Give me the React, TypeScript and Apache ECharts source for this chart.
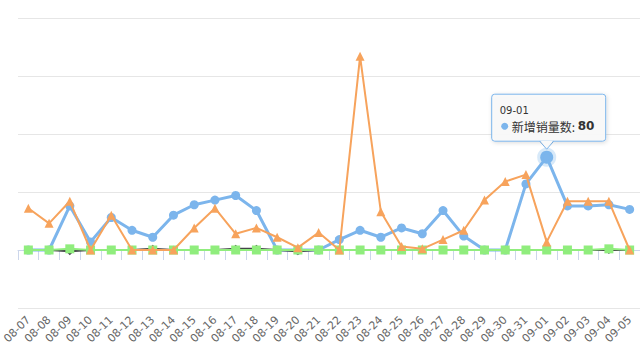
import React, { useEffect, useRef } from 'react';
import * as echarts from 'echarts';

const categories = [
  '08-07', '08-08', '08-09', '08-10', '08-11', '08-12', '08-13', '08-14', '08-15', '08-16',
  '08-17', '08-18', '08-19', '08-20', '08-21', '08-22', '08-23', '08-24', '08-25', '08-26',
  '08-27', '08-28', '08-29', '08-30', '08-31', '09-01', '09-02', '09-03', '09-04', '09-05',
];

const newSalesName = '新增销量数';
const newSales = [0, 0, 38, 7, 28, 17, 11, 30, 39, 43, 47, 34, 0, 0, 0, 9, 17, 11, 19, 14, 34, 12, 0, 0, 57, 80, 38, 38, 39, 35];
const seriesBlack = [0, 0, -1, 0, 0, 0, 1, 0, 0, 0, 1, 1, 0, -1, 0, 0, 0, 0, 0, 0, 0, 0, 0, 0, 0, 0, 0, 0, 0, 0];
const seriesGreen = [0, 0, 1, 0, 0, 0, 0, 0, 0, 0, 0, 0, 0, 0, 0, 0, 0, 0, 0, 0, 0, 0, 0, 0, 0, 0, 0, 0, 1, 0];
const seriesOrange = [36, 23, 42, 0, 30, 0, 0, 0, 19, 36, 14, 19, 11, 2, 15, 0, 167, 33, 3, 1, 9, 17, 43, 59, 65, 7, 42, 42, 42, 0];

const yMin = -50;
const yMax = 200;
const yInterval = 50;

const tipIndex = 25;

export default function App() {
  const ref = useRef<HTMLDivElement>(null);

  useEffect(() => {
    if (!ref.current) return;
    const chart = echarts.init(ref.current, null, { renderer: 'svg' });
    const blueData = newSales.map((v, i) =>
      i === tipIndex
        ? {
            value: v,
            symbolSize: 13,
            itemStyle: { borderColor: 'rgba(124,181,236,0.3)', borderWidth: 6 },
          }
        : v
    );
    chart.setOption({
      animation: false,
      backgroundColor: '#ffffff',
      grid: { left: 2, right: 0, top: 18, bottom: 52, containLabel: false },
      xAxis: {
        type: 'category',
        data: categories,
        boundaryGap: true,
        axisLine: { lineStyle: { color: '#ccd6eb', width: 1 } },
        axisTick: { show: true, length: 10, lineStyle: { color: '#ccd6eb' } },
        axisLabel: {
          rotate: 45,
          interval: 0,
          color: '#666666',
          fontSize: 11,
          fontFamily: 'DejaVu Sans, sans-serif',
          margin: 10,
        },
        splitLine: { show: false },
      },
      yAxis: {
        type: 'value',
        min: yMin,
        max: yMax,
        interval: yInterval,
        axisLine: { show: false },
        axisTick: { show: false },
        axisLabel: { show: false },
        splitLine: { show: true, lineStyle: { color: '#e6e6e6', width: 1 } },
      },
      series: [
        {
          name: newSalesName,
          type: 'line',
          data: blueData,
          symbol: 'circle',
          symbolSize: 9,
          showAllSymbol: true,
          lineStyle: { color: '#7cb5ec', width: 3 },
          itemStyle: { color: '#7cb5ec' },
          z: 2,
        },
        {
          name: 's2',
          type: 'line',
          data: seriesBlack,
          symbol: 'diamond',
          symbolSize: 8,
          showAllSymbol: true,
          lineStyle: { color: '#434348', width: 2 },
          itemStyle: { color: '#434348' },
          z: 3,
        },
        {
          name: 's3',
          type: 'line',
          data: seriesGreen,
          symbol: 'rect',
          symbolSize: 9,
          showAllSymbol: true,
          lineStyle: { color: '#90ed7d', width: 2 },
          itemStyle: { color: '#90ed7d' },
          z: 4,
        },
        {
          name: 's4',
          type: 'line',
          data: seriesOrange,
          symbol: 'triangle',
          symbolSize: 9,
          showAllSymbol: true,
          lineStyle: { color: '#f7a35c', width: 2 },
          itemStyle: { color: '#f7a35c' },
          z: 5,
        },
      ],
    });

    const p = chart.convertToPixel({ xAxisIndex: 0, yAxisIndex: 0 }, [categories[tipIndex], newSales[tipIndex]]) as number[];
    const px = p[0];
    const py = p[1];
    chart.setOption({
      graphic: [
        {
          type: 'group',
          x: px,
          y: py,
          z: 100,
          children: [
            {
              type: 'polygon',
              shape: { points: [[-7, -16], [0, -8], [7, -16]] },
              style: { fill: 'rgba(247,247,247,0.95)', stroke: '#7cb5ec', lineWidth: 1 },
              z: 100,
            },
            {
              type: 'rect',
              shape: { x: -55, y: -63, width: 114, height: 47, r: 3 },
              style: {
                fill: 'rgba(249,249,249,0.95)',
                stroke: '#7cb5ec',
                lineWidth: 1,
                shadowBlur: 4,
                shadowColor: 'rgba(0,0,0,0.15)',
                shadowOffsetX: 1,
                shadowOffsetY: 1,
              },
              z: 101,
            },
            {
              type: 'polygon',
              shape: { points: [[-6.5, -16.5], [0, -9.5], [6.5, -16.5]] },
              style: { fill: 'rgba(249,249,249,1)', stroke: 'none' },
              z: 102,
            },
            {
              type: 'text',
              x: -47,
              y: -47,
              style: {
                text: categories[tipIndex],
                fontSize: 10,
                fill: '#333333',
                fontFamily: 'DejaVu Sans, sans-serif',
                verticalAlign: 'middle',
              },
              z: 103,
            },
            {
              type: 'circle',
              shape: { cx: -42, cy: -31, r: 3.5 },
              style: { fill: '#7cb5ec' },
              z: 103,
            },
            {
              type: 'text',
              x: -35,
              y: -31,
              style: {
                text: '{a|' + newSalesName + ': }{b|' + newSales[tipIndex] + '}',
                verticalAlign: 'middle',
                rich: {
                  a: { fontSize: 12, fill: '#333333', fontFamily: 'Noto Sans CJK SC, sans-serif' },
                  b: { fontSize: 12, fill: '#333333', fontWeight: 'bold', fontFamily: 'DejaVu Sans, sans-serif' },
                },
              },
              z: 103,
            },
          ],
        },
      ],
    });

    return () => chart.dispose();
  }, []);

  return (
    <div
      ref={ref}
      style={{ position: 'fixed', left: 0, top: 0, width: 640, height: 360, background: '#fff' }}
    />
  );
}
